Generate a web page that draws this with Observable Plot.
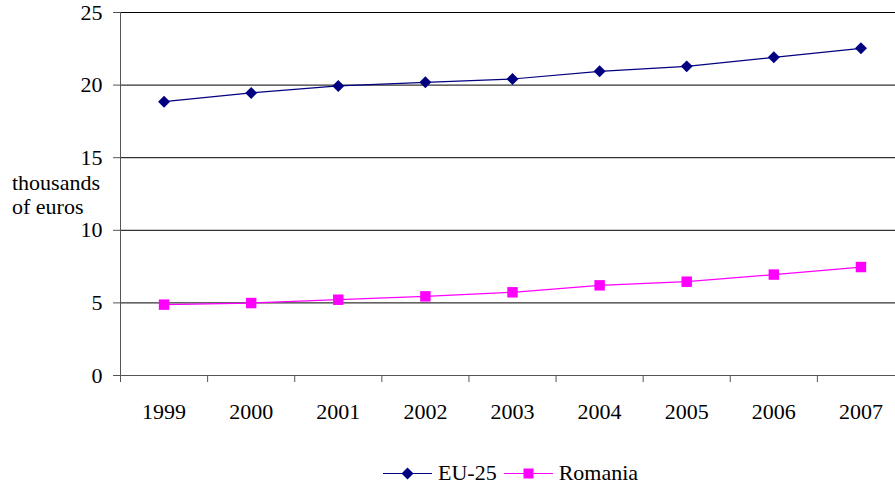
<!DOCTYPE html>
<html>
<head>
<meta charset="utf-8">
<script src="https://cdn.jsdelivr.net/npm/d3@7"></script>
<script src="https://cdn.jsdelivr.net/npm/@observablehq/plot@0.6"></script>
<style>
  body { margin: 0; background: #fff; font-family: "Liberation Serif", "Times New Roman", serif; }
  #wrap { position: relative; width: 895px; height: 484px; }
  #chart svg, #chart svg text { font-family: "Liberation Serif", "Times New Roman", serif !important; }
  #ylabel { position: absolute; left: 12px; top: 171px; font-size: 22px; line-height: 24px; color: #000; }
  #legend { display: flex; align-items: center; height: 22px; padding-top: 22px; margin-left: 383px; font-size: 22px; color: #000; }
  #legend .item { display: flex; align-items: center; }
  #legend svg { display: block; }
</style>
</head>
<body>
<div id="wrap">
  <div id="chart"></div>
  <div id="ylabel"></div>
  <div id="legend"></div>
</div>
<script>
const years = [1999, 2000, 2001, 2002, 2003, 2004, 2005, 2006, 2007];
const eu25 = [18.86, 19.46, 19.94, 20.19, 20.42, 20.95, 21.29, 21.91, 22.53];
const romania = [4.88, 4.99, 5.22, 5.45, 5.73, 6.21, 6.46, 6.95, 7.47];
const yTicks = [0, 5, 10, 15, 20, 25];
const seriesNames = ["EU-25", "Romania"];
const seriesColors = ["#000080", "#FF00FF"];
const seriesSymbols = ["diamond2", "square"];
const yLabelLines = ["thousands", "of euros"];

const data = years.flatMap((yr, i) => [
  { year: yr, value: eu25[i], series: seriesNames[0] },
  { year: yr, value: romania[i], series: seriesNames[1] }
]);
const boundaries = years.map(y => y - 0.5);

const plot = Plot.plot({
  width: 895,
  height: 440,
  marginLeft: 120,
  marginRight: 0,
  marginTop: 12,
  marginBottom: 65,
  style: { fontSize: "22px", color: "#000", background: "#fff", overflow: "visible" },
  x: { type: "linear", domain: [1998.5, 2007.5], range: [120, 904], label: null },
  y: { domain: [0, 25], range: [375, 12], label: null },
  color: { domain: seriesNames, range: seriesColors },
  symbol: { domain: seriesNames, range: seriesSymbols },
  marks: [
    Plot.ruleY(yTicks.filter(d => d > 0), { stroke: "#000", strokeWidth: 1 }),
    Plot.ruleY([0], { stroke: "#555", strokeWidth: 1 }),
    Plot.ruleX(boundaries, { y1: 0, y2: 0, insetBottom: -7, stroke: "#555" }),
    Plot.ruleX([1998.5], { stroke: "#555", strokeWidth: 1 }),
    Plot.axisY({ ticks: yTicks, tickSize: 7, tickPadding: 11, stroke: "#555", fill: "#000", fontSize: 22, label: null }),
    Plot.axisX({ ticks: years, tickSize: 0, tickPadding: 28, tickFormat: d => String(d), fill: "#000", fontSize: 22, label: null }),
    Plot.line(data, { x: "year", y: "value", z: "series", stroke: "series", strokeWidth: 1.2 }),
    Plot.dot(data.filter(d => d.series === seriesNames[0]), { x: "year", y: "value", symbol: "series", fill: "series", r: 5.4, stroke: "none" }),
    Plot.dot(data.filter(d => d.series === seriesNames[1]), { x: "year", y: "value", symbol: "series", fill: "series", r: 5.9, stroke: "none" })
  ]
});
document.getElementById("chart").appendChild(plot);

document.getElementById("ylabel").innerHTML = yLabelLines.join("<br>");

const legend = document.getElementById("legend");
seriesNames.forEach((name, i) => {
  const item = document.createElement("div");
  item.className = "item";
  item.style.marginRight = i === 0 ? "7px" : "0";
  const sym = seriesSymbols[i] === "square"
    ? `<rect x="19.5" y="5.5" width="10" height="10" fill="${seriesColors[i]}"/>`
    : `<path d="M24.5,4.5 L30.5,10.5 L24.5,16.5 L18.5,10.5 Z" fill="${seriesColors[i]}"/>`;
  item.innerHTML = `<svg width="49" height="21"><line x1="0" x2="49" y1="10.5" y2="10.5" stroke="${seriesColors[i]}" stroke-width="1.2"/>${sym}</svg><span style="margin-left:6px">${name}</span>`;
  legend.appendChild(item);
});
</script>
</body>
</html>
